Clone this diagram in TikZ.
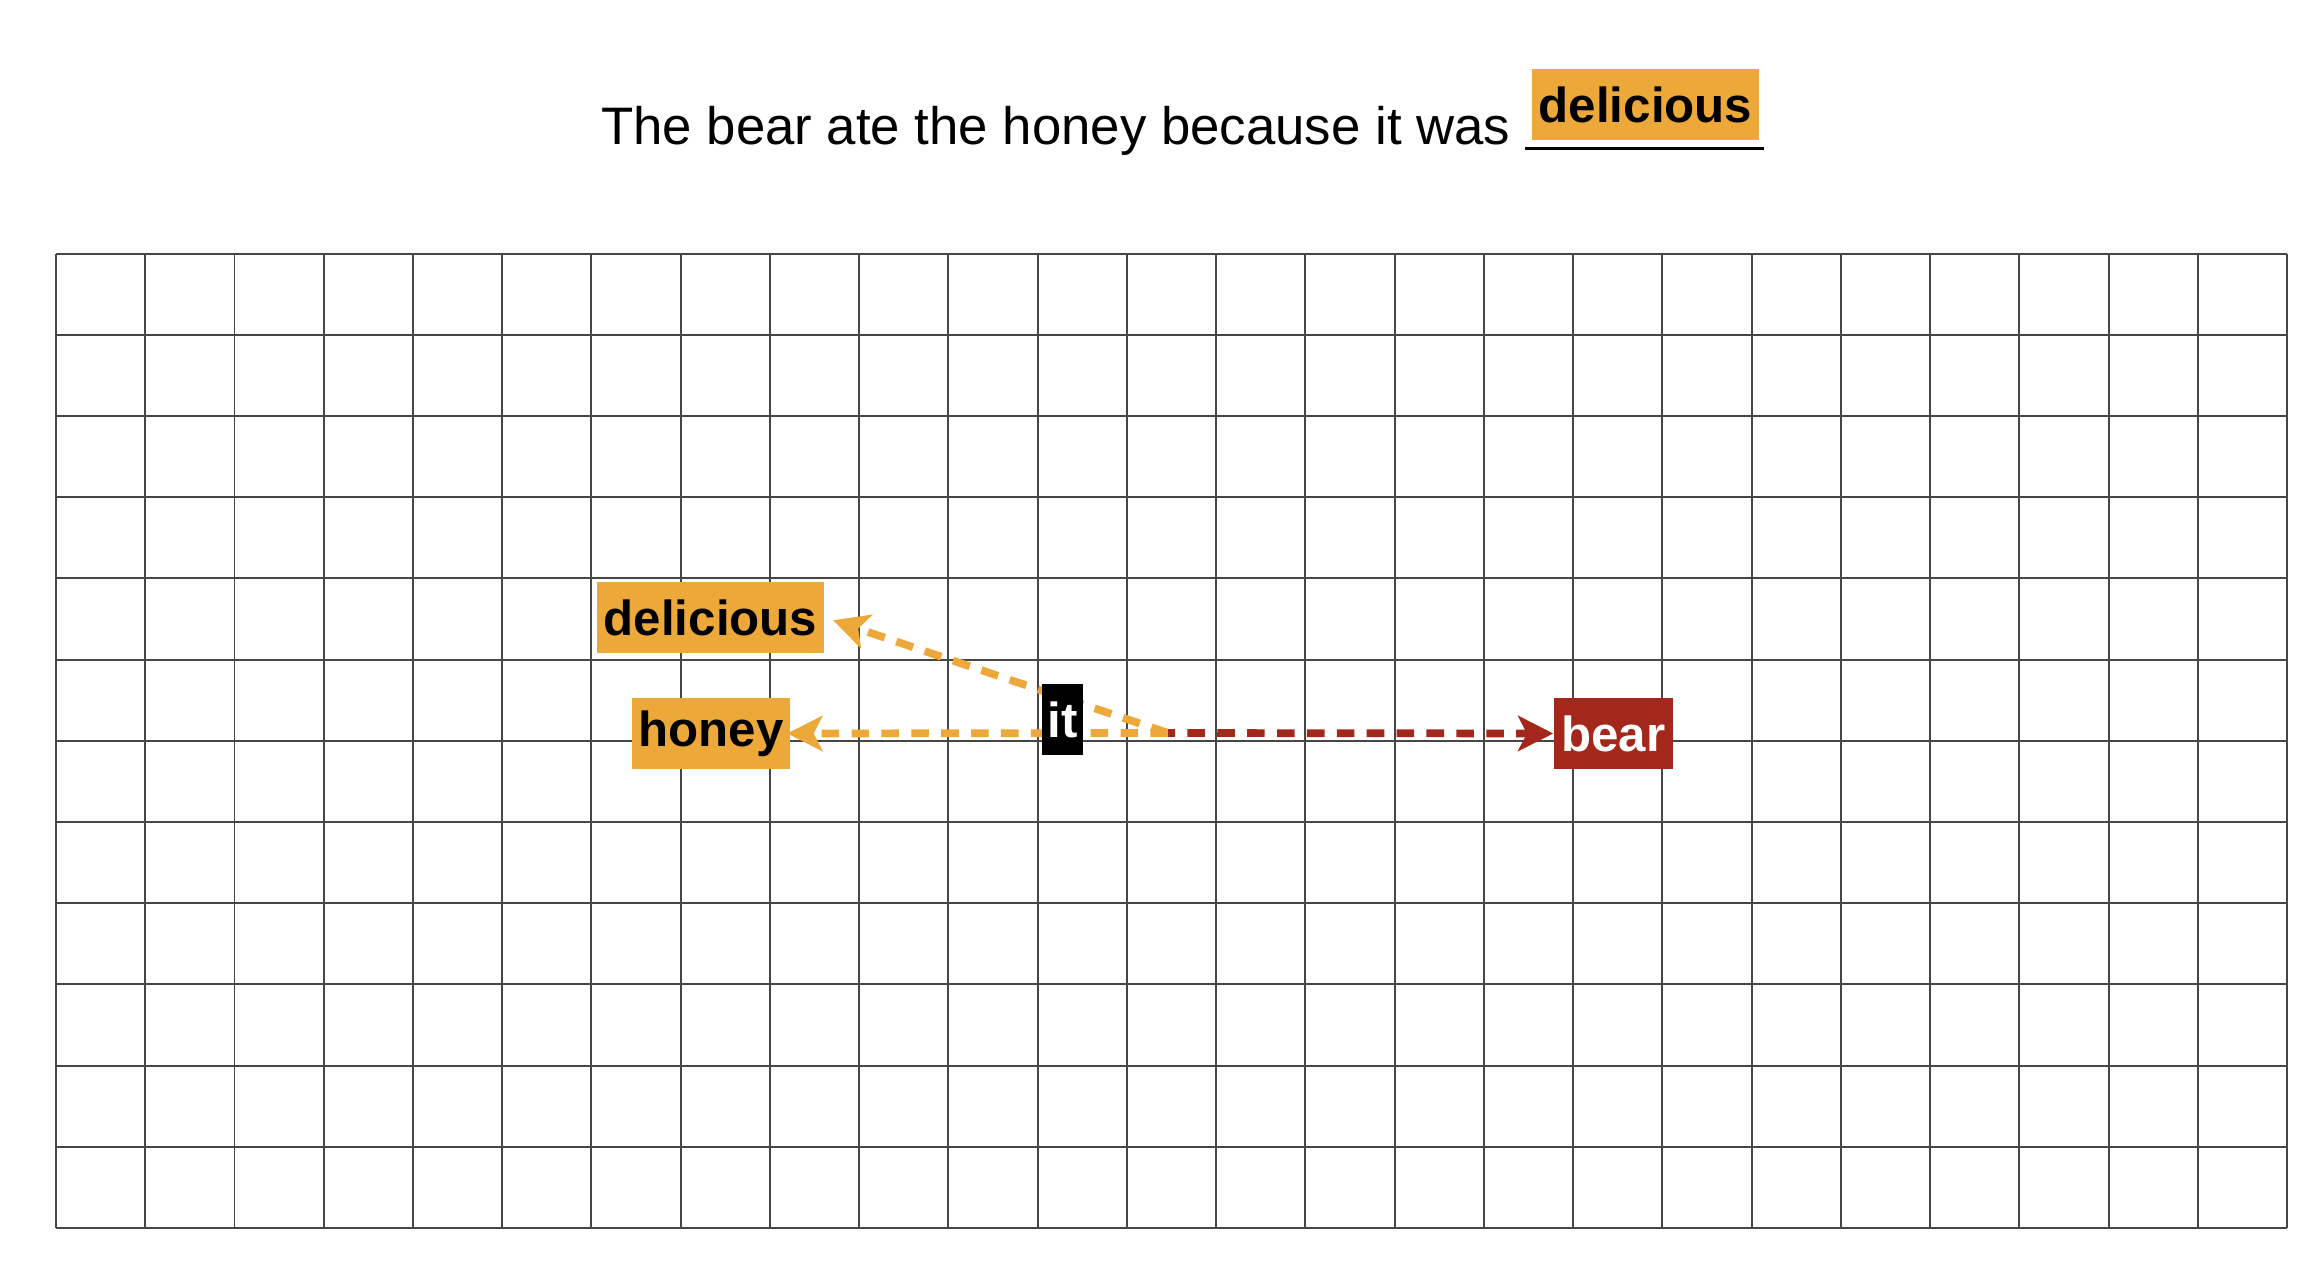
\documentclass[tikz,border=0pt]{standalone}
\usepackage{fontspec}
\setmainfont{Liberation Sans}
\usepackage{tikz}
\usetikzlibrary{arrows.meta,positioning}
\definecolor{miel}{RGB}{237,168,58}
\definecolor{ours}{RGB}{163,40,27}
\definecolor{grille}{RGB}{70,70,70}
\newcommand{\titre}{\fontsize{15pt}{18pt}\selectfont}
\newcommand{\mot}{\fontsize{14pt}{17pt}\selectfont\bfseries}

\begin{document}
\begin{tikzpicture}[x=0.01cm,y=-0.01cm,
		gridline/.style={draw=grille,line width=0.55pt},
		wordbox/.style={fill=miel,text=black,font=\mot,inner sep=0pt,minimum height=0.71cm},
		attn/.style={line width=2.2pt,dash pattern=on 5pt off 3.5pt,-{Stealth[length=10pt,width=10pt,inset=2.5pt]}},
	]
		\useasboundingbox (0,0) rectangle (2312,1264);
		%grille
		\foreach \i in {0,...,25}
			\draw[gridline] ({56+\i*89.24},253.6) -- ({56+\i*89.24},1228.4);
		\foreach \j in {0,...,12}
			\draw[gridline] (56,{253.6+\j*81.2}) -- (2287,{253.6+\j*81.2});
		%phrase
		\node[anchor=base east,inner sep=0pt,font=\titre] (phrase) at (1511,145) {The bear ate the honey because it was};
		\node[wordbox,minimum width=2.27cm] (tdel) at (1645.5,104.5) {delicious};
		\draw[line width=0.9pt] ([shift={(-6,8)}]tdel.south west) -- ([shift={(4,8)}]tdel.south east);
		%mots
		\node[wordbox,minimum width=2.27cm] (del) at (710.5,617.5) {delicious};
		\node[wordbox,minimum width=1.58cm] (honey) at (711,733.5) {honey};
		\node[wordbox,fill=ours,text=white,minimum width=1.19cm] (bear) at (1613.5,733.5) {bear};
		\coordinate (src) at (1168,733);
		%fleches
		\draw[attn,draw=miel,shorten >=2.5pt] (src) -- (del.east);
		\draw[attn,draw=miel,shorten >=-1pt] (src) -- (honey.east);
		\draw[attn,draw=ours,dash phase=3pt] (src) -- (bear.west);
		\node[wordbox,fill=black,text=white,minimum width=0.41cm] (it) at (1062.5,719.5) {it};
	\end{tikzpicture}
\end{document}
